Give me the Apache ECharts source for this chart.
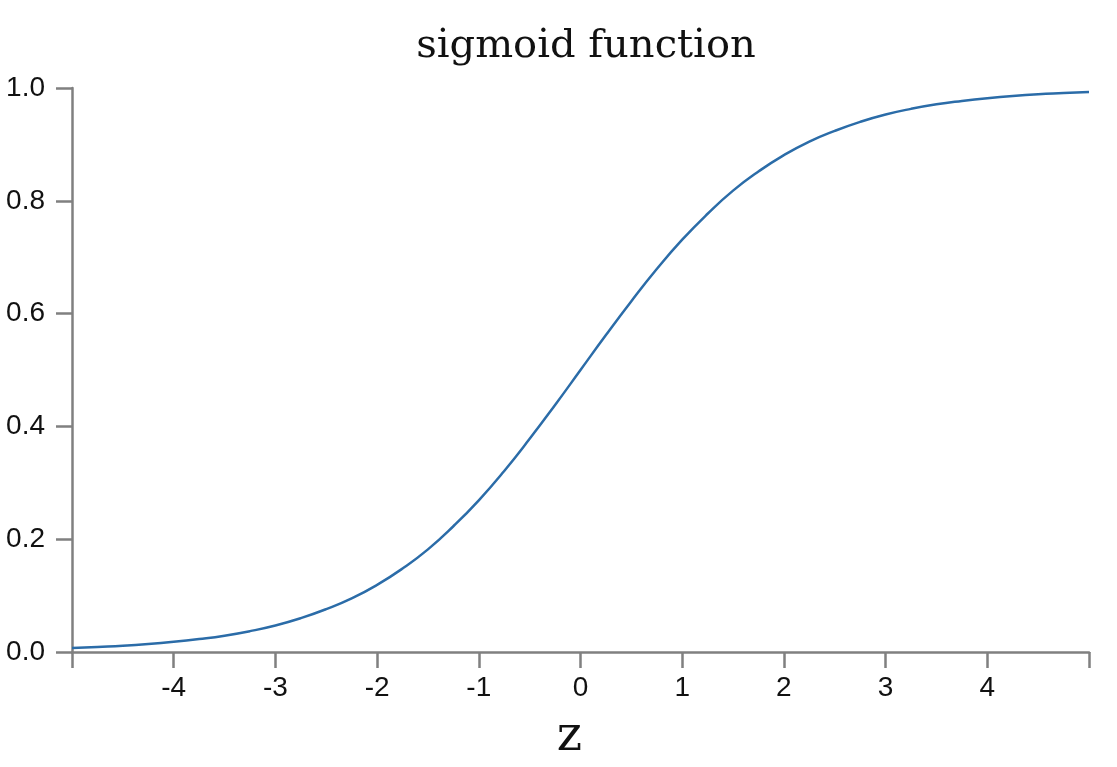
<!DOCTYPE html>
<html>
<head>
<meta charset="utf-8">
<script src="https://cdn.jsdelivr.net/npm/echarts@6/dist/echarts.min.js"></script>
<style>
  html, body { margin: 0; padding: 0; background: #fff; }
  #chart { width: 1117px; height: 767px; }
</style>
</head>
<body>
<div id="chart"></div>
<script>
/* ── Data ── */
const zValues = [
  -5, -4.75, -4.5, -4.25, -4, -3.75, -3.5, -3.25, -3, -2.75, -2.5, -2.25, -2, -1.75, -1.5, -1.25, -1,
  -0.75, -0.5, -0.25, 0, 0.25, 0.5, 0.75, 1, 1.25, 1.5, 1.75, 2, 2.25, 2.5, 2.75, 3, 3.25, 3.5,
  3.75, 4, 4.25, 4.5, 4.75, 5
];
const sigmaValues = [
  0.007, 0.009, 0.011, 0.014, 0.018, 0.023, 0.029, 0.037, 0.047, 0.060, 0.076, 0.095, 0.119, 0.148, 0.182, 0.223, 0.269,
  0.321, 0.378, 0.438, 0.500, 0.562, 0.622, 0.679, 0.731, 0.777, 0.818, 0.852, 0.881, 0.905, 0.924, 0.940, 0.953, 0.963, 0.971,
  0.977, 0.982, 0.986, 0.989, 0.991, 0.993
];
const xTickLabels = ['-4', '-3', '-2', '-1', '0', '1', '2', '3', '4'];

const AXIS_GREY = '#808080';
const LINE_BLUE = '#2b6ca8';

const chart = echarts.init(document.getElementById('chart'), null, { renderer: 'canvas' });

chart.setOption({
  animation: false,
  title: {
    text: 'sigmoid function',
    left: 581,
    textAlign: 'center',
    top: 22,
    textStyle: { fontFamily: 'DejaVu Serif', fontSize: 40, fontWeight: 'normal', color: '#111' }
  },
  grid: { left: 72, right: 28, top: 88, bottom: 112 },
  xAxis: {
    type: 'value',
    min: -5,
    max: 5,
    interval: 1,
    name: 'z',
    nameLocation: 'middle',
    nameGap: 62,
    nameTextStyle: { fontFamily: 'DejaVu Serif', fontSize: 48, color: '#111', padding: [0, 22, 0, 0] },
    axisLine: { onZero: false, lineStyle: { color: AXIS_GREY, width: 2.5 } },
    axisTick: { show: true, length: 16, lineStyle: { color: AXIS_GREY, width: 2.5 } },
    axisLabel: {
      margin: 22,
      fontFamily: 'Liberation Sans',
      fontSize: 28,
      color: '#111',
      formatter: v => xTickLabels.includes(String(v)) ? String(v) : ''
    },
    splitLine: { show: false }
  },
  yAxis: {
    type: 'value',
    min: 0,
    max: 1,
    interval: 0.2,
    axisLine: { show: true, onZero: false, lineStyle: { color: AXIS_GREY, width: 2.5 } },
    axisTick: { show: true, length: 16, lineStyle: { color: AXIS_GREY, width: 2.5 } },
    axisLabel: {
      margin: 27,
      fontFamily: 'Liberation Sans',
      fontSize: 28,
      color: '#111',
      formatter: v => v.toFixed(1)
    },
    splitLine: { show: false }
  },
  series: [{
    type: 'line',
    data: zValues.map((z, i) => [z, sigmaValues[i]]),
    smooth: true,
    showSymbol: false,
    lineStyle: { color: LINE_BLUE, width: 2.5 }
  }]
});
</script>
</body>
</html>
